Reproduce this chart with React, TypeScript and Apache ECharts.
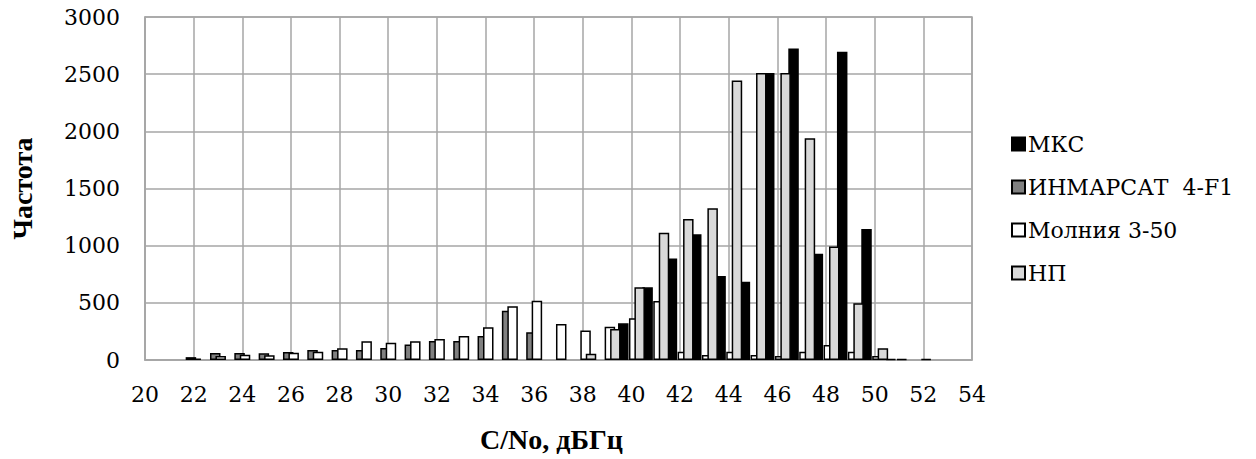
import React, { useEffect, useRef } from "react";
import * as echarts from "echarts";

// C/No, dBHz categories (integer bins)
const categories = [22, 23, 24, 25, 26, 27, 28, 29, 30, 31, 32, 33, 34, 35, 36, 37, 38, 39, 40, 41, 42, 43, 44, 45, 46, 47, 48, 49, 50, 51, 52];

const seriesNames = ["МКС", "ИНМАРСАТ  4-F1", "Молния 3-50", "НП"];

const mksValues = [null, null, null, null, null, null, null, null, null, null, null, null, null, null, null, null, null, null, 321, 636, 887, 1100, 735, 685, 2510, 2725, 930, 2695, 1145, 10, null];
const inmarsatValues = [25, 62, 62, 58, 70, 88, 88, 88, 105, 136, 166, 166, 210, 430, 242, null, null, null, null, null, null, null, null, null, null, null, null, null, null, null, null];
const molniyaValues = [12, 35, 46, 41, 63, 73, 103, 163, 150, 163, 184, 210, 286, 470, 519, 315, 257, 291, 365, 515, 73, 44, 73, 44, 35, 73, 131, 73, 35, 8, 8];
const npValues = [null, null, null, null, null, null, null, null, null, null, null, null, null, null, null, null, 55, 271, 636, 1114, 1234, 1328, 2445, 2510, 2510, 1940, 992, 496, 102, null, null];

const xTicksMin = 20;
const xTicksMax = 54;
const yMax = 3000;

const colors = ["#000000", "#808080", "#ffffff", "#d9d9d9"];

export default function App() {
  const ref = useRef<HTMLDivElement>(null);

  useEffect(() => {
    if (!ref.current) return;
    const chart = echarts.init(ref.current, null, { renderer: "svg" });
    const boldFont = "Liberation Serif";
    const regFont = "DejaVu Serif";
    const regSize = 22;
    const gridColor = "#a6a6a6";

    const allValues = [mksValues, inmarsatValues, molniyaValues, npValues];
    const series = allValues.map((vals, si) => ({
      name: seriesNames[si],
      type: "bar",
      data: categories
        .map((c, i) => (vals[i] == null ? null : [c, vals[i]]))
        .filter((d) => d !== null),
      barWidth: 10.5,
      barGap: "-48%",
      itemStyle: {
        color: colors[si],
        borderColor: "#000000",
        borderWidth: 1.5,
      },
      emphasis: { disabled: true },
    }));

    chart.setOption({
      animation: false,
      backgroundColor: "#ffffff",
      textStyle: { fontFamily: regFont },
      grid: {
        left: 142,
        right: 284,
        top: 17,
        bottom: 99,
        show: true,
        borderColor: gridColor,
        borderWidth: 1.5,
        containLabel: false,
      },
      legend: {
        orient: "vertical",
        left: 1006,
        top: 126,
        icon: "rect",
        itemWidth: 13,
        itemHeight: 13,
        itemGap: 17,
        data: seriesNames,
        textStyle: { fontSize: regSize, color: "#000", fontFamily: regFont, lineHeight: 26, padding: [0, 0, 0, -2] },
      },
      xAxis: {
        type: "value",
        min: xTicksMin,
        max: xTicksMax,
        interval: 2,
        axisLine: { show: true, lineStyle: { color: gridColor, width: 1.5 } },
        axisTick: { show: false },
        axisLabel: { fontSize: regSize, color: "#000", margin: 23, fontFamily: regFont },
        splitLine: { show: true, lineStyle: { color: gridColor, width: 1.5 } },
        name: "С/No, дБГц",
        nameLocation: "middle",
        nameGap: 65,
        nameTextStyle: { fontSize: 28, fontWeight: "bold", color: "#000", fontFamily: boldFont, padding: [0, 14, 0, 0] },
      },
      yAxis: {
        type: "value",
        min: 0,
        max: yMax,
        interval: 500,
        axisLine: { show: true, lineStyle: { color: gridColor, width: 1.5 } },
        axisTick: { show: false },
        axisLabel: {
          fontSize: regSize,
          color: "#000",
          margin: 25,
          fontFamily: regFont,
          formatter: (v: number) => String(v),
        },
        splitLine: { show: true, lineStyle: { color: gridColor, width: 1.5 } },
        name: "Частота",
        nameLocation: "middle",
        nameGap: 109,
        nameTextStyle: { fontSize: 28, fontWeight: "bold", color: "#000", fontFamily: boldFont },
      },
      series,
    });

    return () => chart.dispose();
  }, []);

  return (
    <div
      ref={ref}
      style={{ position: "fixed", left: 0, top: 0, width: 1256, height: 459, background: "#fff" }}
    />
  );
}
